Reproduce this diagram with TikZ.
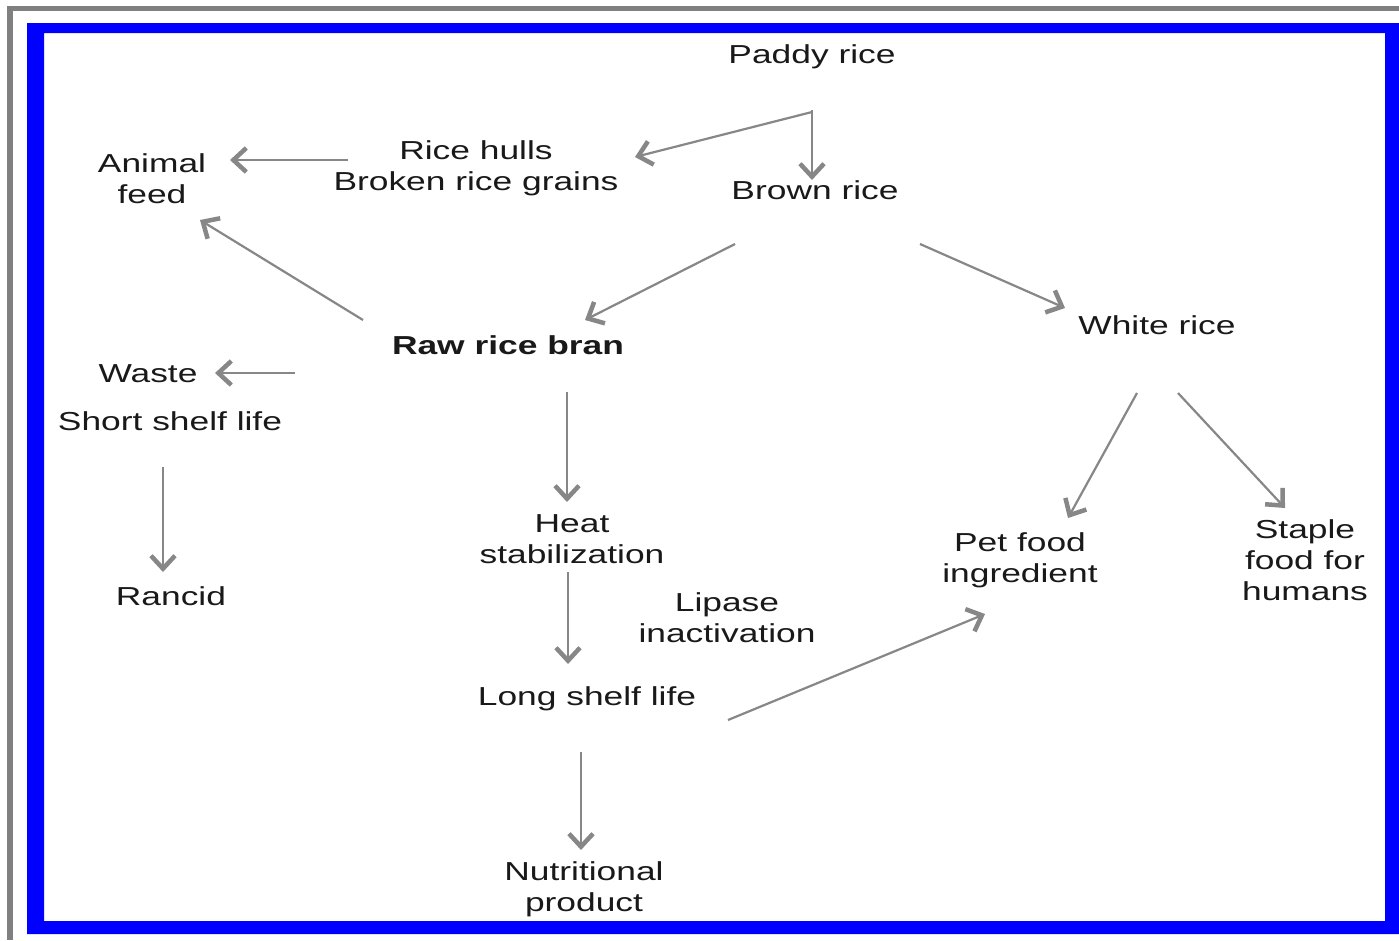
\documentclass[tikz,border=0pt]{standalone}
\usepackage{fontspec}
\usetikzlibrary{arrows.meta,calc}
\newfontfamily\lsans{Liberation Sans}[FakeStretch=1.36]
\definecolor{frameblue}{RGB}{0,0,255}
\definecolor{framegray}{RGB}{128,128,128}
\definecolor{arrgray}{RGB}{135,135,135}
\definecolor{txtcol}{RGB}{25,25,25}
\tikzset{
  txt/.style={font=\lsans\fontsize{26}{31}\selectfont, text=txtcol, align=center, inner sep=0pt},
  arr/.style={draw=arrgray, line width=2.2pt, -{Straight Barb[length=13pt,width=24pt,line width=4.5pt]}}
}
\begin{document}
\begin{tikzpicture}[x=1pt,y=-1pt]
\useasboundingbox (0,0) rectangle (1399,940);
\fill[white] (0,0) rectangle (1399,940);
% frames
\fill[framegray] (7,6) rectangle (1399,11);
\fill[framegray] (7,6) rectangle (13,940);
\fill[frameblue,even odd rule] (27,23) rectangle (1399,934) (44,33) rectangle (1385,921);
% nodes
\node[txt] (paddy) at (812,57) {Paddy rice};
\node[txt] (hulls) at (476,168) {Rice hulls\\Broken rice grains};
\node[txt] (brown) at (815,190) {Brown rice};
\node[txt] (animal) at (152,179) {Animal\\feed};
\node[txt,font=\lsans\bfseries\fontsize{26}{31}\selectfont] (bran) at (508,345) {Raw rice bran};
\node[txt] (white) at (1157,325) {White rice};
\node[txt] (waste) at (148,374) {Waste};
\node[txt] (short) at (170,421) {Short shelf life};
\node[txt] (rancid) at (171,596) {Rancid};
\node[txt] (heat) at (572,539) {Heat\\stabilization};
\node[txt] (lipase) at (727,618) {Lipase\\inactivation};
\node[txt] (long) at (587,699) {Long shelf life};
\node[txt] (nutri) at (584,889) {Nutritional\\product};
\node[txt] (pet) at (1020,560) {Pet food\\ingredient};
\node[txt] (staple) at (1305,560) {Staple\\food for\\humans};
% connectors
\draw[arr] ($(paddy)+(0,53)$) -- ($(brown)+(-3,-10)$);
\draw[arr] ($(paddy)+(0,55)$) -- ($(hulls)+(159,-11)$);
\draw[arr] ($(hulls)+(-128,-8)$) -- ($(animal)+(78,-19)$);
\draw[arr] ($(bran)+(-145,-25)$) -- ($(animal)+(48,41)$);
\draw[arr] ($(brown)+(-80,54)$) -- ($(bran)+(77,-25)$);
\draw[arr] ($(brown)+(105,54)$) -- ($(white)+(-92,-17)$);
\draw[arr] ($(bran)+(-213,28)$) -- ($(waste)+(67,-1)$);
\draw[arr] ($(bran)+(59,47)$) -- ($(heat)+(-5,-37)$);
\draw[arr] ($(short)+(-7,46)$) -- ($(rancid)+(-8,-24)$);
\draw[arr] ($(heat)+(-4,33)$) -- ($(long)+(-19,-35)$);
\draw[arr] ($(white)+(-20,68)$) -- ($(pet)+(48,-42)$);
\draw[arr] ($(white)+(21,68)$) -- ($(staple)+(-20,-52)$);
\draw[arr] ($(long)+(141,21)$) -- ($(pet)+(-35,54)$);
\draw[arr] ($(long)+(-6,53)$) -- ($(nutri)+(-3,-39)$);
\end{tikzpicture}
\end{document}
